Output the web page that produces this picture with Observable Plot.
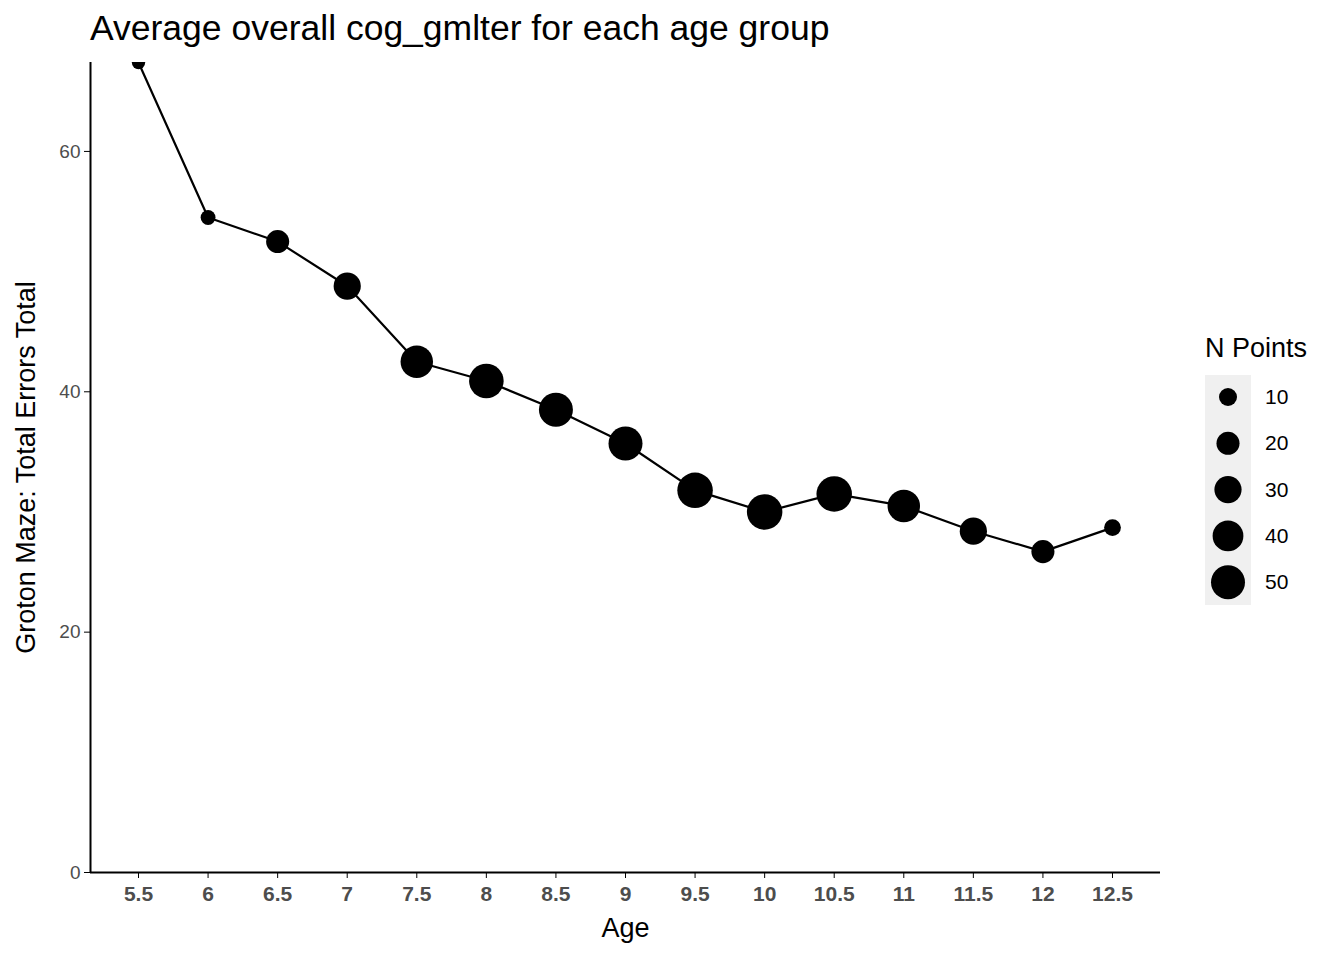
<!DOCTYPE html>
<html><head><meta charset="utf-8">
<script src="https://cdn.jsdelivr.net/npm/d3@7"></script>
<script src="https://cdn.jsdelivr.net/npm/@observablehq/plot@0.6"></script>
<style>
body{margin:0;font-family:"Liberation Sans",Arial,sans-serif;background:#fff}
#wrap{position:relative;width:1344px;height:960px}
#title{position:absolute;left:90px;top:8px;font-size:35.5px;color:#000}
#legend{position:absolute;left:1205px;top:328px}
</style></head><body>
<div id="wrap">
<div id="title">Average overall cog_gmlter for each age group</div>
<div id="chart"></div>
<div id="legend"></div>
</div>
<script>
const ages = [5.5,6,6.5,7,7.5,8,8.5,9,9.5,10,10.5,11,11.5,12,12.5];
const errors = [67.4,54.5,52.5,48.8,42.5,40.9,38.5,35.7,31.8,30.0,31.5,30.5,28.4,26.7,28.7];
const nPoints = [3,5,20,30,45,52,50,50,55,55,55,45,30,20,8];
const legendN = [10,20,30,40,50];

// ggplot-like size: area linear in N
const radius = n => Math.sqrt(29 + 5.2 * n);
const data = ages.map((a, i) => ({age: a, err: errors[i], n: nPoints[i]}));
const xMin = 5.155, xMax = 12.845;

const chart = Plot.plot({
  width: 1170, height: 960,
  marginTop: 62, marginBottom: 88, marginLeft: 90, marginRight: 10,
  style: {fontFamily: "Liberation Sans, Arial, sans-serif", background: "white"},
  x: {domain: [xMin, xMax], ticks: ages, tickFormat: d => String(d), label: null},
  y: {domain: [0, 67.4], ticks: [0,20,40,60], label: null},
  r: {type: "identity"},
  marks: [
    Plot.axisX({ticks: ages, tickFormat: d => String(d), tickSize: 6, fontSize: 21, fill: "#4d4d4d", fontWeight: "bold", tickPadding: 8, label: null}),
    Plot.axisY({ticks: [0,20,40,60], tickSize: 6, fontSize: 19, fill: "#4d4d4d", tickPadding: 4, label: null}),
    Plot.line(data, {x: "age", y: "err", stroke: "black", strokeWidth: 2.2, clip: true}),
    Plot.dot(data, {x: "age", y: "err", r: d => radius(d.n), fill: "black", clip: true}),
    Plot.ruleY([0], {stroke: "black", strokeWidth: 2}),
    Plot.ruleX([xMin], {stroke: "black", strokeWidth: 2}),
    Plot.text(["Age"], {frameAnchor: "bottom", dy: 64, fontSize: 27, fill: "black"}),
    Plot.text(["Groton Maze: Total Errors Total"], {frameAnchor: "left", textAnchor: "middle", dx: -64, rotate: -90, fontSize: 27, fill: "black"})
  ]
});
document.getElementById("chart").appendChild(chart);

// legend
const lg = d3.select("#legend").append("svg").attr("width", 135).attr("height", 290);
lg.append("text").attr("x", 0).attr("y", 29).attr("font-size", 27).text("N Points");
lg.append("rect").attr("x", 0).attr("y", 47).attr("width", 46).attr("height", 230).attr("fill", "#f0f0f0");
legendN.forEach((n, i) => {
  const cy = 69 + i * 46.3;
  lg.append("circle").attr("cx", 23).attr("cy", cy).attr("r", radius(n)).attr("fill", "black");
  lg.append("text").attr("x", 60).attr("y", cy + 7).attr("font-size", 21).text(n);
});
</script>
</body></html>
